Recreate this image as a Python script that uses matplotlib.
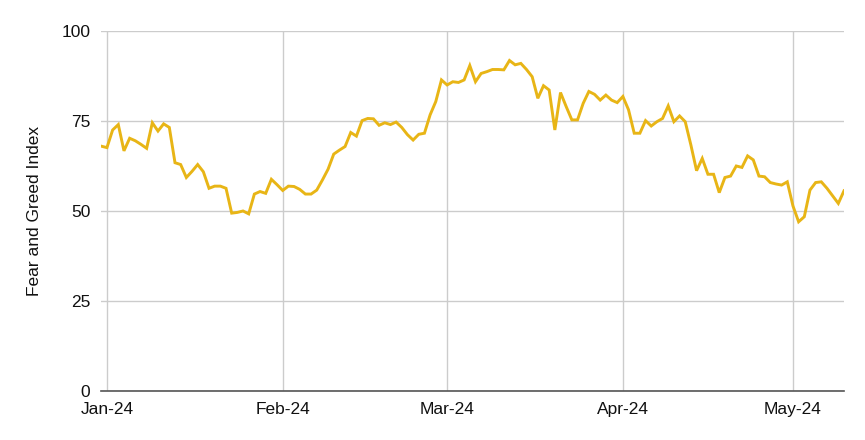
import matplotlib
matplotlib.use("Agg")
import matplotlib.pyplot as plt
import matplotlib.dates as mdates
import pandas as pd

# daily Fear and Greed readings, 31 Dec 2023 .. 10 May 2024
start_date = "2023-12-31"
index_values = [
    68.0, 67.6, 72.5, 74.0, 66.7, 70.2, 69.5, 68.5, 67.4, 74.5,
    72.2, 74.2, 73.2, 63.4, 62.9, 59.3, 61.0, 62.9, 60.9, 56.3,
    56.9, 56.9, 56.3, 49.4, 49.6, 50.0, 49.2, 54.7, 55.4, 54.9,
    58.8, 57.3, 55.7, 56.9, 56.8, 56.0, 54.7, 54.7, 55.8, 58.6,
    61.6, 65.8, 66.9, 67.9, 71.8, 70.8, 75.1, 75.7, 75.6, 73.8,
    74.5, 74.0, 74.7, 73.2, 71.2, 69.7, 71.3, 71.6, 76.7, 80.4,
    86.4, 85.0, 85.9, 85.7, 86.4, 90.4, 85.9, 88.2, 88.7, 89.3,
    89.3, 89.2, 91.8, 90.6, 91.0, 89.3, 87.3, 81.3, 84.8, 83.6,
    72.5, 82.9, 79.0, 75.3, 75.3, 79.9, 83.2, 82.4, 80.8, 82.2,
    80.8, 80.1, 81.8, 78.1, 71.6, 71.6, 75.1, 73.6, 74.8, 75.7,
    79.2, 74.8, 76.4, 74.8, 68.3, 61.2, 64.6, 60.2, 60.2, 55.1,
    59.3, 59.7, 62.5, 62.1, 65.3, 64.2, 59.7, 59.5, 57.9, 57.5,
    57.2, 58.1, 51.4, 47.0, 48.4, 55.8, 57.9, 58.1, 56.3, 54.2,
    52.1, 55.6,
]
y_ticks = [0, 25, 50, 75, 100]
y_label = "Fear and Greed Index"

dates = pd.date_range(start_date, periods=len(index_values), freq="D")

plt.rcParams["font.family"] = ["Liberation Sans", "DejaVu Sans"]

fig = plt.figure(figsize=(8.65, 4.4), dpi=100)
ax = fig.add_axes([0.1171, 0.1114, 0.8586, 0.8182])

ax.plot(dates, index_values, color="#E8B516", linewidth=2.1, solid_joinstyle="miter")

ax.set_xlim(dates[0], dates[-1])
ax.set_ylim(0, 100)
ax.set_yticks(y_ticks)
ax.xaxis.set_major_locator(mdates.MonthLocator())
ax.xaxis.set_major_formatter(mdates.DateFormatter("%b-%y"))

ax.grid(True, color="#cccccc", linewidth=1.0)
ax.set_axisbelow(True)
for side in ["left", "right", "top"]:
    ax.spines[side].set_visible(False)
ax.spines["bottom"].set_color("#555555")
ax.spines["bottom"].set_linewidth(1.2)
ax.spines["bottom"].set_zorder(3)

ax.tick_params(axis="y", length=0, pad=8, labelsize=12.5, labelcolor="#111111")
ax.tick_params(axis="x", length=0, pad=8, labelsize=12.5, labelcolor="#111111")
ax.set_ylabel(y_label, fontsize=12.5, color="#111111", labelpad=14)

fig.savefig("out.png", dpi=100)
